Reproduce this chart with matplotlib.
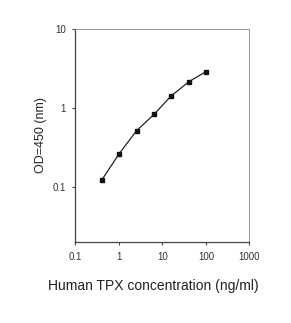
import numpy as np
import matplotlib.pyplot as plt

plt.rcParams['font.family'] = ['Liberation Sans', 'DejaVu Sans']

# standard curve
concentration = [0.41, 1.02, 2.56, 6.4, 16, 40, 100]
od450 = [0.123, 0.264, 0.516, 0.83, 1.43, 2.15, 2.9]

x_ticks = [0.1, 1, 10, 100, 1000]
x_tick_labels = ['0.1', '1', '10', '100', '1000']
y_ticks = [0.1, 1, 10]
y_tick_labels = ['0.1', '1', '10']

fig = plt.figure(figsize=(2.91, 3.23), dpi=100)
ax = fig.add_axes([0.259, 0.2517, 0.598, 0.6573])

ax.plot(concentration, od450, '-', color='#222222', lw=0.9,
        marker='s', ms=3.2, mfc='#111111', mec='#111111')

ax.set_xscale('log')
ax.set_yscale('log')
ax.set_xlim(0.1, 1000)
ax.set_ylim(0.02, 10)
ax.set_xticks(x_ticks)
ax.set_xticklabels(x_tick_labels)
ax.set_yticks(y_ticks)
ax.set_yticklabels(y_tick_labels)
ax.minorticks_off()

ax.tick_params(direction='out', length=2.2, width=0.8, color='#444444',
               labelsize=7, labelcolor='#333333')
ax.tick_params(axis='x', pad=5)
ax.tick_params(axis='y', pad=4.5)

for side in ['left', 'bottom']:
    ax.spines[side].set_color('#444444')
    ax.spines[side].set_linewidth(0.9)
for side in ['top', 'right']:
    ax.spines[side].set_color('#999999')
    ax.spines[side].set_linewidth(0.7)

ax.set_xlabel('Human TPX concentration (ng/ml)', fontsize=10, color='#222222')
ax.set_ylabel('OD=450 (nm)', fontsize=9, color='#222222')
ax.xaxis.set_label_coords(0.4466, -0.176)
ax.yaxis.set_label_coords(-0.163, 0.5)

fig.savefig('out.png', dpi=100)
